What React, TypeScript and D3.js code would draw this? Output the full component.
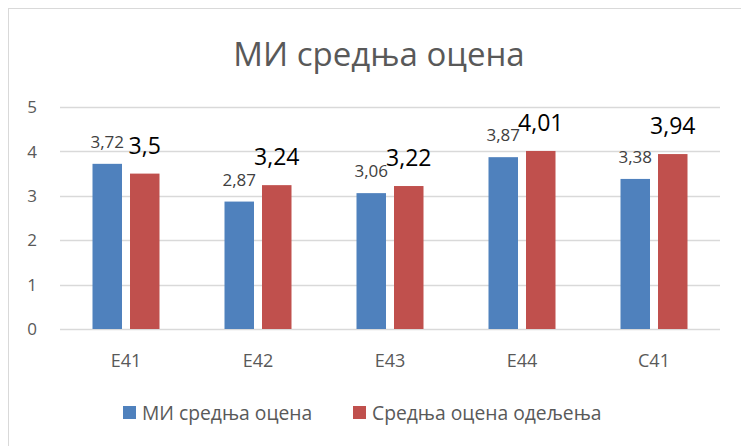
import React, { useEffect, useRef } from "react";
import * as d3 from "d3";

const categories = ["E41", "E42", "E43", "E44", "C41"];
const miValues = [3.72, 2.87, 3.06, 3.87, 3.38];
const classValues = [3.5, 3.24, 3.22, 4.01, 3.94];
const seriesNames = ["МИ средња оцена", "Средња оцена одељења"];
const yTicks = [0, 1, 2, 3, 4, 5];

const blue = "#4F81BD";
const red = "#C0504D";
const font = "'Open Sans', 'Noto Sans', sans-serif";

const App = () => {
  const ref = useRef<SVGSVGElement>(null);

  useEffect(() => {
    if (!ref.current) return;
    const svg = d3.select(ref.current);
    svg.selectAll("*").remove();

    const W = 741;
    const H = 446;
    const margin = { top: 107, right: 21, bottom: 117, left: 60 };
    const width = W - margin.left - margin.right;
    const height = H - margin.top - margin.bottom;

    // chart frame
    svg
      .append("rect")
      .attr("x", 8.5)
      .attr("y", 8.5)
      .attr("width", 740)
      .attr("height", 445)
      .attr("fill", "#fff")
      .attr("stroke", "#d9d9d9");

    // title
    svg
      .append("text")
      .attr("x", 379)
      .attr("y", 66)
      .attr("text-anchor", "middle")
      .style("font-family", font)
      .style("font-size", "33px")
      .attr("fill", "#595959")
      .text("МИ средња оцена");

    const g = svg
      .append("g")
      .attr("transform", `translate(${margin.left},${margin.top})`);

    const x = d3.scaleBand().domain(categories).range([0, width]);
    const y = d3.scaleLinear().domain([0, 5]).range([height, 0]);
    const bw = 29.5;
    const gap = 8;

    // gridlines
    g.selectAll(".grid")
      .data(yTicks)
      .enter()
      .append("line")
      .attr("x1", 0)
      .attr("x2", width)
      .attr("y1", (d) => Math.round(y(d)) + 0.5)
      .attr("y2", (d) => Math.round(y(d)) + 0.5)
      .attr("stroke", "#d9d9d9")
      .attr("stroke-width", 1.3);

    // y labels
    g.selectAll(".ylab")
      .data(yTicks)
      .enter()
      .append("text")
      .attr("x", -28)
      .attr("y", (d) => y(d))
      .attr("dy", "0.36em")
      .attr("text-anchor", "middle")
      .style("font-family", font)
      .style("font-size", "17px")
      .attr("fill", "#595959")
      .text((d) => d);

    // x labels
    g.selectAll(".xlab")
      .data(categories)
      .enter()
      .append("text")
      .attr("x", (d) => x(d)! + x.bandwidth() / 2)
      .attr("y", height + 38)
      .attr("text-anchor", "middle")
      .style("font-family", font)
      .style("font-size", "18px")
      .attr("fill", "#595959")
      .text((d) => d);

    const fmt = (v: number) => String(v).replace(".", ",");

    // blue bars
    g.selectAll(".bar-mi")
      .data(miValues)
      .enter()
      .append("rect")
      .attr("x", (d, i) => x(categories[i])! + x.bandwidth() / 2 - gap / 2 - bw)
      .attr("y", (d) => y(d))
      .attr("width", bw)
      .attr("height", (d) => height - y(d))
      .attr("fill", blue);

    // red bars
    g.selectAll(".bar-class")
      .data(classValues)
      .enter()
      .append("rect")
      .attr("x", (d, i) => x(categories[i])! + x.bandwidth() / 2 + gap / 2)
      .attr("y", (d) => y(d))
      .attr("width", bw)
      .attr("height", (d) => height - y(d))
      .attr("fill", red);

    // value labels
    g.selectAll(".lab-mi")
      .data(miValues)
      .enter()
      .append("text")
      .attr("x", (d, i) => x(categories[i])! + x.bandwidth() / 2 - gap / 2 - bw / 2)
      .attr("y", (d) => y(d) - 16)
      .attr("text-anchor", "middle")
      .style("font-family", font)
      .style("font-size", "17px")
      .attr("fill", "#404040")
      .text((d) => fmt(d));

    g.selectAll(".lab-class")
      .data(classValues)
      .enter()
      .append("text")
      .attr("x", (d, i) => x(categories[i])! + x.bandwidth() / 2 + gap / 2 + bw / 2)
      .attr("y", (d) => y(d) - 20)
      .attr("text-anchor", "middle")
      .style("font-family", font)
      .style("font-size", "23px")
      .attr("fill", "#000")
      .text((d) => fmt(d));

    // legend
    const legendX = [123, 353];
    const colors = [blue, red];
    seriesNames.forEach((name, i) => {
      svg
        .append("rect")
        .attr("x", legendX[i])
        .attr("y", 406)
        .attr("width", 13)
        .attr("height", 13)
        .attr("fill", colors[i]);
      svg
        .append("text")
        .attr("x", legendX[i] + 19)
        .attr("y", 420)
        .style("font-family", font)
        .style("font-size", "19.3px")
        .attr("fill", "#595959")
        .text(name);
    });
  }, []);

  return (
    <svg
      ref={ref}
      width={741}
      height={446}
      style={{ position: "absolute", left: 0, top: 0, display: "block" }}
    />
  );
};

export default App;
